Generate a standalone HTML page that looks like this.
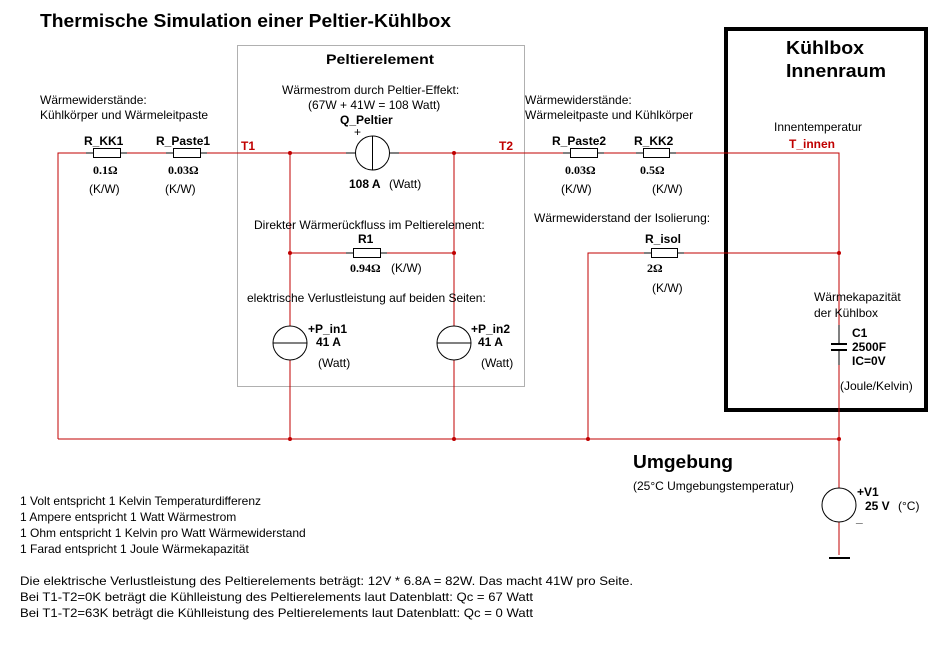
<!DOCTYPE html>
<html><head><meta charset="utf-8"><style>
html,body{margin:0;padding:0;background:#fff;}
svg{display:block;font-family:"Liberation Sans",sans-serif;}
.t{font-size:12px;fill:#000;}
.b{font-size:12px;font-weight:bold;fill:#000;}
.r{font-size:12px;font-weight:bold;fill:#c00000;}
.s{font-family:"Liberation Serif",serif;font-size:12px;font-weight:bold;}
.h{font-size:18px;font-weight:bold;}
</style></head><body>
<svg width="950" height="652" viewBox="0 0 950 652">
<rect width="950" height="652" fill="#fff"/>
<text x="40" y="27" class="h" textLength="411" lengthAdjust="spacingAndGlyphs">Thermische Simulation einer Peltier-Kühlbox</text>
<rect x="237.5" y="45.5" width="287" height="341" fill="none" stroke="#b0b0b0" stroke-width="1"/>
<rect x="726" y="29" width="200" height="381" fill="none" stroke="#000" stroke-width="4"/>
<g stroke="#c00000" stroke-width="1" fill="none">
<polyline points="58,439 58,153 839,153 839,555"/>
<line x1="58" y1="439" x2="839" y2="439"/>
<line x1="290" y1="153" x2="290" y2="439"/>
<line x1="454" y1="153" x2="454" y2="439"/>
<line x1="290" y1="253" x2="454" y2="253"/>
<polyline points="588,439 588,253 839,253"/>
</g>
<g fill="#c00000">
<circle cx="290" cy="153" r="2"/><circle cx="454" cy="153" r="2"/>
<circle cx="290" cy="253" r="2"/><circle cx="454" cy="253" r="2"/>
<circle cx="839" cy="253" r="2"/>
<circle cx="290" cy="439" r="2"/><circle cx="454" cy="439" r="2"/>
<circle cx="588" cy="439" r="2"/><circle cx="839" cy="439" r="2"/>
</g>
<g stroke="#000" stroke-width="1" fill="#fff">
<line x1="86" y1="153" x2="127" y2="153"/><rect x="93.5" y="148.5" width="27" height="9"/>
<line x1="166" y1="153" x2="207" y2="153"/><rect x="173.5" y="148.5" width="27" height="9"/>
<line x1="563" y1="153" x2="604" y2="153"/><rect x="570.5" y="148.5" width="27" height="9"/>
<line x1="636" y1="153" x2="676" y2="153"/><rect x="643.5" y="148.5" width="26" height="9"/>
<line x1="346" y1="253" x2="387" y2="253"/><rect x="353.5" y="248.5" width="27" height="9"/>
<line x1="644" y1="253" x2="684" y2="253"/><rect x="651.5" y="248.5" width="26" height="9"/>
<line x1="346" y1="153" x2="399" y2="153"/>
<circle cx="372.5" cy="153" r="17"/><line x1="372.5" y1="136" x2="372.5" y2="170"/>
<line x1="290" y1="326" x2="290" y2="360"/>
<circle cx="290" cy="343" r="17"/><line x1="273" y1="343" x2="307" y2="343"/>
<circle cx="454" cy="343" r="17"/><line x1="437" y1="343" x2="471" y2="343"/>
<line x1="839" y1="325" x2="839" y2="365"/>
<circle cx="839" cy="505" r="17"/>
<line x1="829" y1="558" x2="850" y2="558" stroke-width="2"/>
</g>
<g stroke="#000" stroke-width="2"><line x1="831" y1="344" x2="847" y2="344"/><line x1="831" y1="350" x2="847" y2="350"/></g>
<rect x="836" y="345" width="6" height="4" fill="#fff"/>
<text class="t" x="40" y="104">Wärmewiderstände:</text>
<text class="t" x="40" y="119">Kühlkörper und Wärmeleitpaste</text>
<text class="b" x="84" y="145">R_KK1</text>
<text class="b" x="156" y="145">R_Paste1</text>
<text class="s" x="93" y="174">0.1Ω</text>
<text class="s" x="168" y="174">0.03Ω</text>
<text class="t" x="89" y="193">(K/W)</text>
<text class="t" x="165" y="193">(K/W)</text>
<text class="r" x="241" y="150">T1</text>
<text class="r" x="499" y="150">T2</text>
<text x="326" y="64" style="font-size:14px;font-weight:bold" textLength="108" lengthAdjust="spacingAndGlyphs">Peltierelement</text>
<text class="t" x="282" y="94">Wärmestrom durch Peltier-Effekt:</text>
<text class="t" x="308" y="109">(67W + 41W = 108 Watt)</text>
<text class="b" x="340" y="124">Q_Peltier</text>
<text class="t" x="354" y="136">+</text>
<text class="b" x="349" y="188">108 A</text><text class="t" x="389" y="188">(Watt)</text>
<text class="t" x="254" y="229">Direkter Wärmerückfluss im Peltierelement:</text>
<text class="b" x="358" y="243">R1</text>
<text class="s" x="350" y="272">0.94Ω</text><text class="t" x="391" y="272">(K/W)</text>
<text class="t" x="247" y="302">elektrische Verlustleistung auf beiden Seiten:</text>
<text class="b" x="308" y="333">+P_in1</text><text class="b" x="316" y="346">41 A</text>
<text class="t" x="318" y="367">(Watt)</text>
<text class="b" x="471" y="333">+P_in2</text><text class="b" x="478" y="346">41 A</text>
<text class="t" x="481" y="367">(Watt)</text>
<text class="t" x="525" y="104">Wärmewiderstände:</text>
<text class="t" x="525" y="119">Wärmeleitpaste und Kühlkörper</text>
<text class="b" x="552" y="145">R_Paste2</text>
<text class="b" x="634" y="145">R_KK2</text>
<text class="s" x="565" y="174">0.03Ω</text>
<text class="s" x="640" y="174">0.5Ω</text>
<text class="t" x="561" y="193">(K/W)</text>
<text class="t" x="652" y="193">(K/W)</text>
<text class="t" x="534" y="222">Wärmewiderstand der Isolierung:</text>
<text class="b" x="645" y="243">R_isol</text>
<text class="s" x="647" y="272">2Ω</text>
<text class="t" x="652" y="292">(K/W)</text>
<text x="786" y="54" class="h" textLength="78" lengthAdjust="spacingAndGlyphs">Kühlbox</text>
<text x="786" y="77" class="h" textLength="100" lengthAdjust="spacingAndGlyphs">Innenraum</text>
<text class="t" x="774" y="131">Innentemperatur</text>
<text class="r" x="789" y="148">T_innen</text>
<text class="t" x="814" y="301">Wärmekapazität</text>
<text class="t" x="814" y="317">der Kühlbox</text>
<text class="b" x="852" y="337">C1</text>
<text class="b" x="852" y="351">2500F</text>
<text class="b" x="852" y="365">IC=0V</text>
<text class="t" x="840" y="390">(Joule/Kelvin)</text>
<text x="633" y="468" class="h" textLength="100" lengthAdjust="spacingAndGlyphs">Umgebung</text>
<text class="t" x="633" y="490">(25°C Umgebungstemperatur)</text>
<text class="b" x="857" y="496">+V1</text>
<text class="b" x="865" y="510">25 V</text><text class="t" x="898" y="510">(°C)</text>
<text class="b" x="856" y="522">_</text>
<text class="t" x="20" y="505">1 Volt entspricht 1 Kelvin Temperaturdifferenz</text>
<text class="t" x="20" y="521">1 Ampere entspricht 1 Watt Wärmestrom</text>
<text class="t" x="20" y="537">1 Ohm entspricht 1 Kelvin pro Watt Wärmewiderstand</text>
<text class="t" x="20" y="553">1 Farad entspricht 1 Joule Wärmekapazität</text>
<text class="t" x="20" y="585" textLength="613" lengthAdjust="spacingAndGlyphs">Die elektrische Verlustleistung des Peltierelements beträgt: 12V * 6.8A = 82W. Das macht 41W pro Seite.</text>
<text class="t" x="20" y="601" textLength="513" lengthAdjust="spacingAndGlyphs">Bei T1-T2=0K beträgt die Kühlleistung des Peltierelements laut Datenblatt: Qc = 67 Watt</text>
<text class="t" x="20" y="617" textLength="513" lengthAdjust="spacingAndGlyphs">Bei T1-T2=63K beträgt die Kühlleistung des Peltierelements laut Datenblatt: Qc = 0 Watt</text>
</svg>
</body></html>
